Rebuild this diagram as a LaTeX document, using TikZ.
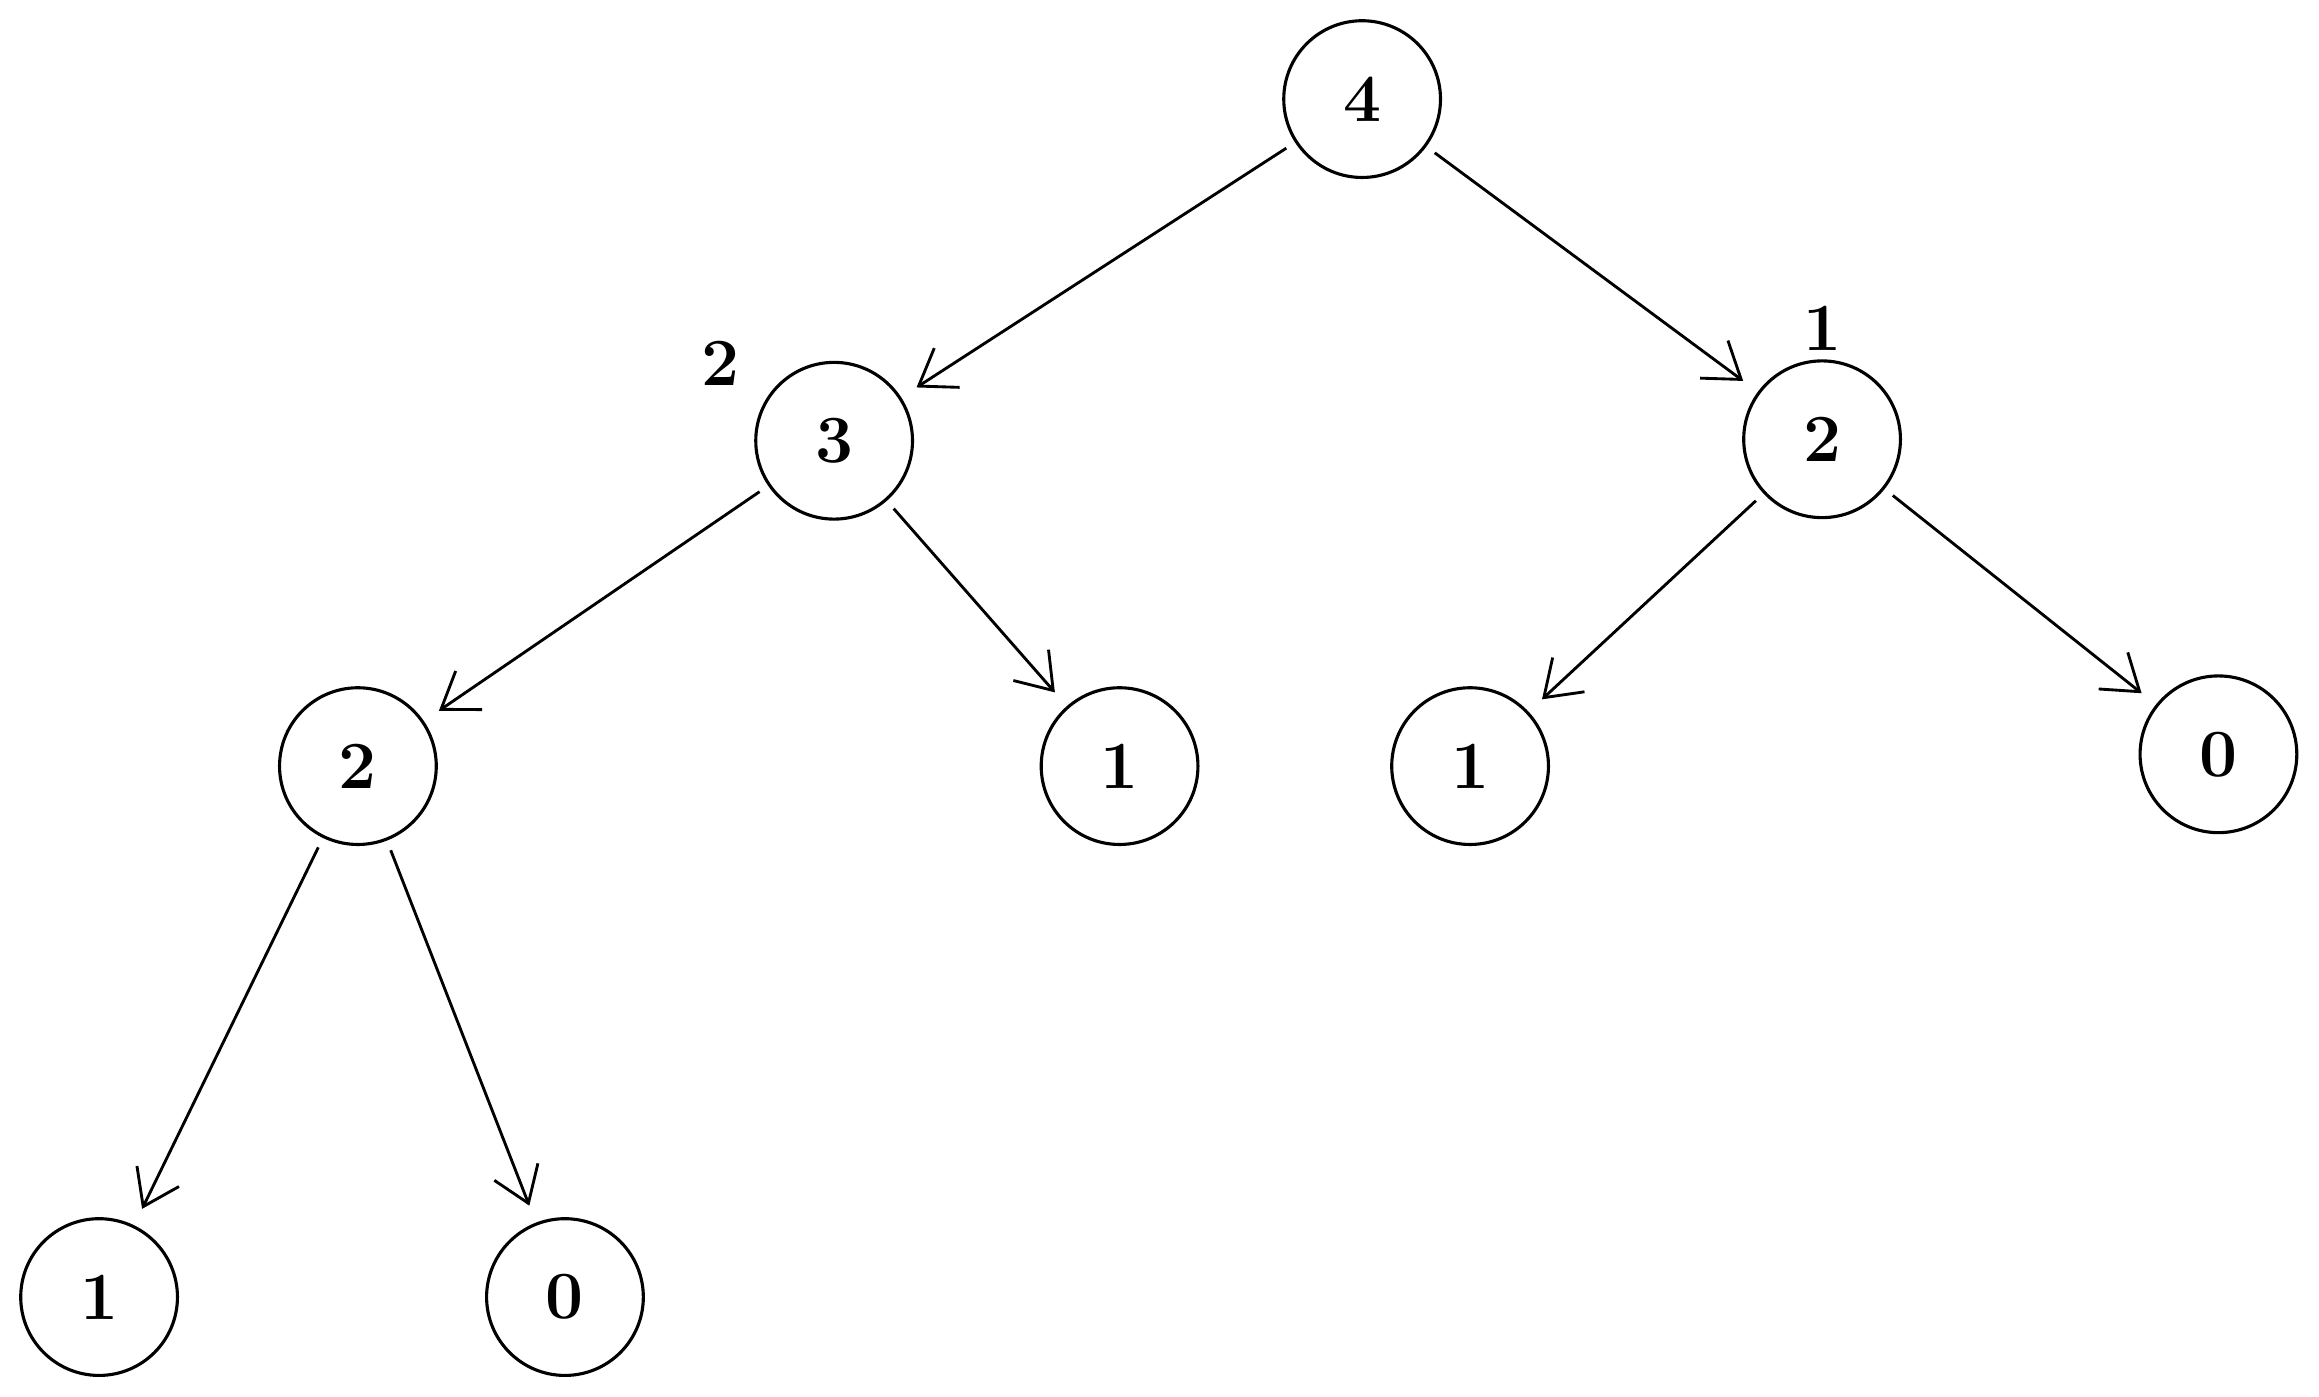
\documentclass[tikz,border=0pt]{standalone}
\usetikzlibrary{arrows.meta}
\begin{document}
\begin{tikzpicture}[x=0.02cm, y=-0.02cm,
    vert/.style={circle, draw, line width=1.2pt, minimum size=2.12cm, font=\fontsize{26}{26}\selectfont\bfseries},
    edge/.style={-{Straight Barb[length=13pt, width=18pt]}, line width=1.1pt, shorten <=4pt, shorten >=7pt},
    tag/.style={font=\fontsize{26}{26}\selectfont\bfseries}]
    \useasboundingbox (0,0) rectangle (1568,944);
    \node[vert] (4) at (921,67) {4};
    \node[vert] (3) at (564,298) {3};
    \node[vert] (2r) at (1232,297) {2};
    \node[vert] (2l) at (242,518) {2};
    \node[vert] (1a) at (757,518) {1};
    \node[vert] (1b) at (994,518) {1};
    \node[vert] (0a) at (1500,510) {0};
    \node[vert] (1c) at (67,877) {1};
    \node[vert] (0b) at (382,877) {0};

    \node[tag] (h3) at (487,246) {2};
    \node[tag] (h2r) at (1232,222) {1};

    \draw[edge] (4) -- (3);
    \draw[edge] (4) -- (2r);
    \draw[edge] (3) -- (2l);
    \draw[edge] (3) -- (1a);
    \draw[edge] (2r) -- (1b);
    \draw[edge] (2r) -- (0a);
    \draw[edge] (2l) -- (1c);
    \draw[edge] (2l) -- (0b);
\end{tikzpicture}
\end{document}
